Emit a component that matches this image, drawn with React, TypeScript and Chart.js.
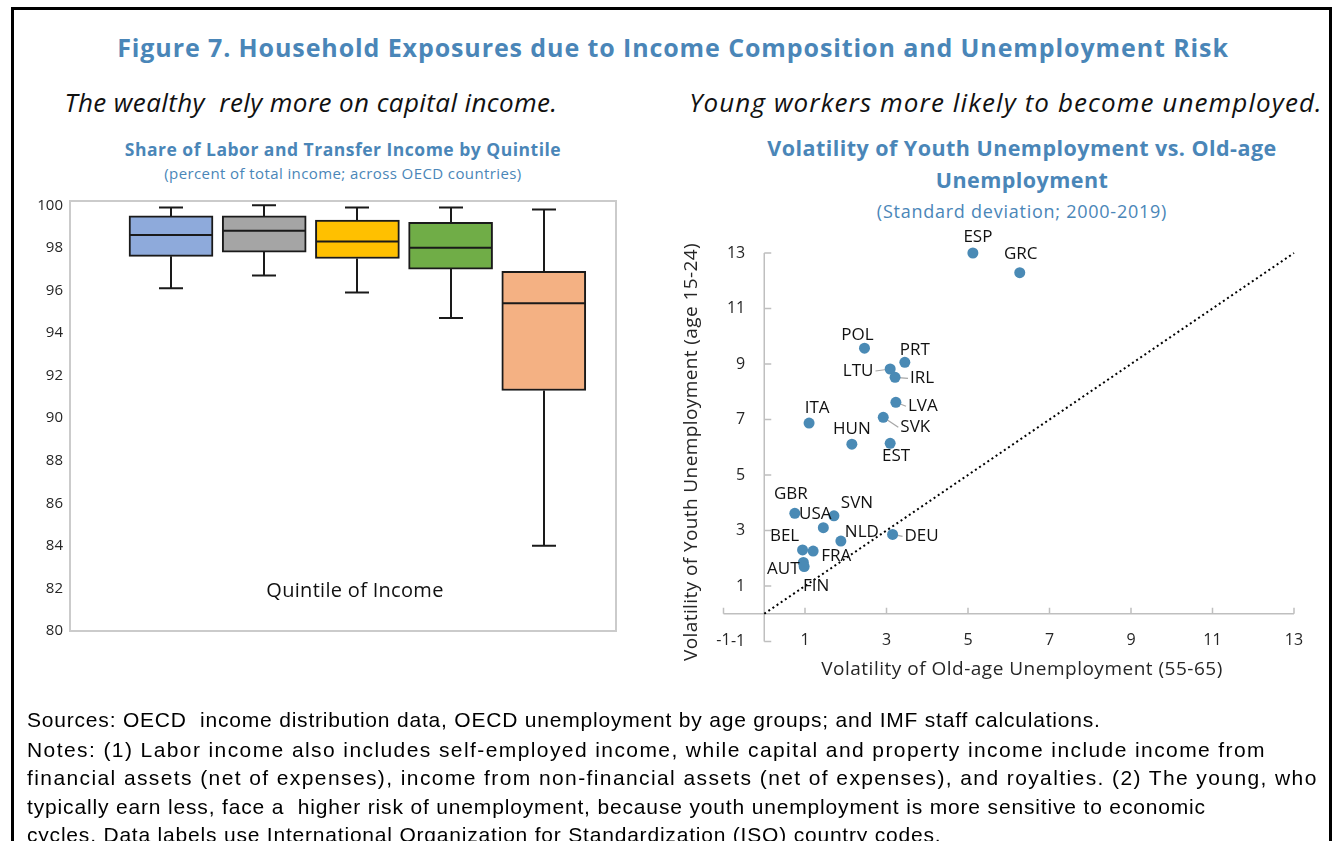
import React, { useEffect, useRef } from "react";
import { Chart, registerables } from "chart.js";

Chart.register(...registerables);

// ---------- Left chart data (box plot by income quintile) ----------
const QUINTILES = ["Q1", "Q2", "Q3", "Q4", "Q5"];
const WHISKER_LOW = [96.1, 96.7, 95.9, 94.7, 84.0];
const BOX_LOW = [97.6, 97.8, 97.5, 97.0, 91.3];
const MEDIAN = [98.6, 98.8, 98.3, 98.0, 95.4];
const BOX_HIGH = [99.5, 99.5, 99.3, 99.2, 96.9];
const WHISKER_HIGH = [99.9, 100.0, 99.9, 99.9, 99.8];
const LEFT_Y_TICKS = [80, 82, 84, 86, 88, 90, 92, 94, 96, 98, 100];

// ---------- Right chart data (scatter) ----------
const COUNTRIES = ["ESP", "GRC", "POL", "PRT", "LTU", "IRL", "LVA", "SVK", "ITA", "HUN", "EST", "GBR", "SVN", "USA", "NLD", "DEU", "BEL", "FRA", "AUT", "FIN"];
const OLD_AGE_SD = [5.12, 6.27, 2.46, 3.45, 3.09, 3.21, 3.23, 2.92, 1.10, 2.15, 3.09, 0.75, 1.71, 1.45, 1.88, 3.15, 0.94, 1.20, 0.96, 0.98];
const YOUTH_SD = [13.0, 12.29, 9.57, 9.06, 8.82, 8.52, 7.62, 7.08, 6.87, 6.11, 6.14, 3.62, 3.53, 3.10, 2.62, 2.86, 2.30, 2.26, 1.85, 1.70];
const AXIS_TICKS = [-1, 1, 3, 5, 7, 9, 11, 13];
const DIAGONAL = [0, 13];

// ---------- Styling / placement (not data) ----------
const BOX_COLORS = ["#8eaadb", "#a5a5a5", "#ffc000", "#70ad47", "#f4b183"];
const BLUE = "#4a86b8";
const POINT_COLOR = "#4a8ab5";
// label offsets [dx, dy, leaderLine]
const LABEL_PLACEMENT: Record<string, [number, number, boolean]> = {
  ESP: [5, -16, false],
  GRC: [1, -19, false],
  POL: [-7, -13, false],
  PRT: [10, -12, false],
  LTU: [-32, 2, true],
  IRL: [27, 1, true],
  LVA: [27, 4, true],
  SVK: [32, 10, true],
  ITA: [8, -15, false],
  HUN: [0, -15, false],
  EST: [6, 13, false],
  GBR: [-4, -19, false],
  SVN: [23, -13, false],
  USA: [-8, -14, false],
  NLD: [21, -9, false],
  DEU: [29, 2, true],
  BEL: [-18, -14, false],
  FRA: [23, 5, false],
  AUT: [-20, 7, false],
  FIN: [12, 20, false],
};

const FONT = '"Open Sans", "Noto Sans", sans-serif';

function BoxChart() {
  const ref = useRef<HTMLCanvasElement>(null);
  useEffect(() => {
    if (!ref.current) return;
    const framePlugin = {
      id: "plotFrame",
      beforeDatasetsDraw(chart: any) {
        const { ctx, chartArea } = chart;
        ctx.save();
        ctx.strokeStyle = "#cbcbcb";
        ctx.lineWidth = 2;
        ctx.strokeRect(chartArea.left, chartArea.top, chartArea.right - chartArea.left, chartArea.bottom - chartArea.top);
        ctx.restore();
      },
    };
    const whiskerPlugin = {
      id: "whiskers",
      afterDatasetsDraw(chart: any) {
        const { ctx } = chart;
        const x = chart.scales.x;
        const y = chart.scales.y;
        const meta = chart.getDatasetMeta(0);
        ctx.save();
        ctx.strokeStyle = "#1a1a1a";
        ctx.lineWidth = 2;
        QUINTILES.forEach((_, i) => {
          const cx = Math.round(x.getPixelForValue(i));
          const bar = meta.data[i];
          const half = bar ? bar.width / 2 : 42;
          const yWL = y.getPixelForValue(WHISKER_LOW[i]);
          const yBL = y.getPixelForValue(BOX_LOW[i]);
          const yM = y.getPixelForValue(MEDIAN[i]);
          const yBH = y.getPixelForValue(BOX_HIGH[i]);
          const yWH = y.getPixelForValue(WHISKER_HIGH[i]);
          ctx.beginPath();
          ctx.moveTo(cx, yBL);
          ctx.lineTo(cx, yWL);
          ctx.moveTo(cx - 12, yWL);
          ctx.lineTo(cx + 12, yWL);
          ctx.moveTo(cx, yBH);
          ctx.lineTo(cx, yWH);
          ctx.moveTo(cx - 12, yWH);
          ctx.lineTo(cx + 12, yWH);
          ctx.moveTo(cx - half + 1, yM);
          ctx.lineTo(cx + half - 1, yM);
          ctx.stroke();
        });
        ctx.restore();
      },
    };
    const chart = new Chart(ref.current, {
      type: "bar",
      data: {
        datasets: [
          {
            data: QUINTILES.map((_, i) => ({ x: i, y: [BOX_LOW[i], BOX_HIGH[i]] })) as any,
            backgroundColor: BOX_COLORS,
            borderColor: "#1a1a1a",
            borderWidth: 2,
            borderSkipped: false,
            barThickness: 84,
          },
        ],
      },
      options: {
        responsive: false,
        animation: false,
        layout: { padding: { left: 0, right: 14, top: 11, bottom: 9 } },
        plugins: { legend: { display: false }, tooltip: { enabled: false } },
        scales: {
          x: { type: "linear", min: -1.084, max: 4.775, display: false, offset: false, grid: { offset: false } },
          y: {
            min: 80,
            max: 100.2,
            grid: { display: false, drawTicks: false },
            border: { display: false },
            afterBuildTicks: (s: any) => {
              s.ticks = LEFT_Y_TICKS.map((v) => ({ value: v }));
            },
            afterFit: (s: any) => {
              s.width = 50;
              s.paddingTop = 0;
              s.paddingBottom = 0;
            },
            ticks: {
              padding: 7,
              color: "#262626",
              font: { family: FONT, size: 15 },
              autoSkip: false,
            },
          },
        },
      },
      plugins: [framePlugin, whiskerPlugin],
    });
    return () => chart.destroy();
  }, []);
  return (
    <canvas
      ref={ref}
      width={610}
      height={450}
      style={{ position: "absolute", left: 20, top: 190, width: 610, height: 450 }}
    />
  );
}

function ScatterChart() {
  const ref = useRef<HTMLCanvasElement>(null);
  useEffect(() => {
    if (!ref.current) return;
    const axesPlugin = {
      id: "crossAxes",
      beforeDatasetsDraw(chart: any) {
        const { ctx } = chart;
        const x = chart.scales.x;
        const y = chart.scales.y;
        const x0 = x.getPixelForValue(0);
        const y0 = y.getPixelForValue(0);
        ctx.save();
        ctx.strokeStyle = "#bfbfbf";
        ctx.lineWidth = 1.5;
        ctx.beginPath();
        ctx.moveTo(x.getPixelForValue(-1), y0);
        ctx.lineTo(x.getPixelForValue(13), y0);
        AXIS_TICKS.forEach((v) => {
          const px = x.getPixelForValue(v);
          ctx.moveTo(px, y0);
          ctx.lineTo(px, y0 - 6);
        });
        ctx.moveTo(x0, y.getPixelForValue(-1));
        ctx.lineTo(x0, y.getPixelForValue(13));
        AXIS_TICKS.forEach((v) => {
          const py = y.getPixelForValue(v);
          ctx.moveTo(x0, py);
          ctx.lineTo(x0 + 7, py);
        });
        ctx.stroke();
        // leader lines
        const meta = chart.getDatasetMeta(0);
        ctx.font = `17px ${FONT}`;
        ctx.strokeStyle = "#a6a6a6";
        ctx.lineWidth = 1.2;
        COUNTRIES.forEach((c, i) => {
          const el = meta.data[i];
          const [dx, dy, leader] = LABEL_PLACEMENT[c];
          if (!el || !leader) return;
          const w = ctx.measureText(c).width;
          const lx = dx > 0 ? el.x + dx - w / 2 - 2 : el.x + dx + w / 2 + 2;
          ctx.beginPath();
          ctx.moveTo(el.x, el.y);
          ctx.lineTo(lx, el.y + dy);
          ctx.stroke();
        });
        ctx.restore();
      },
      afterDatasetsDraw(chart: any) {
        const { ctx } = chart;
        const meta = chart.getDatasetMeta(0);
        ctx.save();
        ctx.font = `17px ${FONT}`;
        ctx.fillStyle = "#111";
        ctx.textAlign = "center";
        ctx.textBaseline = "middle";
        COUNTRIES.forEach((c, i) => {
          const el = meta.data[i];
          if (!el) return;
          const [dx, dy] = LABEL_PLACEMENT[c];
          ctx.fillText(c, el.x + dx, el.y + dy);
        });
        ctx.restore();
      },
    };
    const chart = new Chart(ref.current, {
      type: "scatter",
      data: {
        datasets: [
          {
            data: COUNTRIES.map((_, i) => ({ x: OLD_AGE_SD[i], y: YOUTH_SD[i] })),
            backgroundColor: POINT_COLOR,
            borderWidth: 0,
            pointRadius: 5.5,
            order: 0,
            clip: false as any,
          },
          {
            data: DIAGONAL.map((v) => ({ x: v, y: v })),
            showLine: true,
            borderColor: "#000",
            borderWidth: 2,
            borderDash: [2, 3],
            pointRadius: 0,
            order: 1,
            clip: false as any,
          } as any,
        ],
      },
      options: {
        responsive: false,
        animation: false,
        layout: { padding: { left: 0, right: 38, top: 25, bottom: 0 } },
        plugins: { legend: { display: false }, tooltip: { enabled: false } },
        scales: {
          x: {
            type: "linear",
            min: 0,
            max: 13,
            grid: { display: false, drawTicks: false },
            border: { display: false },
            afterBuildTicks: (s: any) => {
              s.ticks = AXIS_TICKS.map((v) => ({ value: v }));
            },
            afterFit: (s: any) => {
              s.height = 59.6;
              s.paddingLeft = 0;
              s.paddingRight = 0;
            },
            ticks: {
              padding: 0,
              autoSkip: false,
              maxRotation: 0,
              color: "#262626",
              font: { family: FONT, size: 16 },
            },
          },
          y: {
            type: "linear",
            min: -0.6,
            max: 13,
            grid: { display: false, drawTicks: false },
            border: { display: false },
            afterBuildTicks: (s: any) => {
              s.ticks = AXIS_TICKS.map((v) => ({ value: v }));
            },
            afterFit: (s: any) => {
              s.width = 104.25;
              s.paddingTop = 0;
              s.paddingBottom = 0;
            },
            ticks: {
              padding: 19,
              autoSkip: false,
              color: "#262626",
              font: { family: FONT, size: 16 },
            },
          },
        },
      },
      plugins: [axesPlugin],
    });
    return () => chart.destroy();
  }, []);
  return (
    <canvas
      ref={ref}
      width={672}
      height={462}
      style={{ position: "absolute", left: 660, top: 228, width: 672, height: 462 }}
    />
  );
}

function Centered(props: { cx: number; cy: number; lh: number; style?: React.CSSProperties; children: React.ReactNode }) {
  return (
    <div
      style={{
        position: "absolute",
        left: props.cx - 600,
        width: 1200,
        top: props.cy - props.lh / 2,
        lineHeight: `${props.lh}px`,
        height: props.lh,
        textAlign: "center",
        whiteSpace: "pre",
        fontFamily: FONT,
        ...props.style,
      }}
    >
      {props.children}
    </div>
  );
}

const NOTE_LINES = [
  "Sources: OECD  income distribution data, OECD unemployment by age groups; and IMF staff calculations.",
  "Notes: (1) Labor income also includes self-employed income, while capital and property income include income from",
  "financial assets (net of expenses), income from non-financial assets (net of expenses), and royalties. (2) The young, who",
  "typically earn less, face a  higher risk of unemployment, because youth unemployment is more sensitive to economic",
  "cycles. Data labels use International Organization for Standardization (ISO) country codes.",
];
const NOTE_Y = [720, 749.5, 778, 806.5, 835];
const NOTE_SPACING = [0.8, 1.41, 1.4, 0.84, 0.8];

export default function App() {
  return (
    <div
      style={{
        position: "absolute",
        left: 0,
        top: 0,
        width: 1333,
        height: 841,
        overflow: "hidden",
        background: "#fff",
        fontFamily: FONT,
      }}
    >
      <div
        style={{
          position: "absolute",
          left: 11,
          top: 7,
          width: 1321,
          height: 900,
          border: "3px solid #000",
          boxSizing: "border-box",
        }}
      />
      <Centered cx={673} cy={47} lh={32} style={{ fontSize: 25, fontWeight: 700, color: BLUE, letterSpacing: 0.9 }}>
        Figure 7. Household Exposures due to Income Composition and Unemployment Risk
      </Centered>
      <Centered cx={311} cy={102} lh={34} style={{ fontSize: 26, fontStyle: "italic", color: "#111", letterSpacing: 0.4 }}>
        {"The wealthy  rely more on capital income."}
      </Centered>
      <Centered cx={1006} cy={102} lh={34} style={{ fontSize: 26, fontStyle: "italic", color: "#111", letterSpacing: 1.1 }}>
        Young workers more likely to become unemployed.
      </Centered>
      <Centered cx={343} cy={149} lh={24} style={{ fontSize: 17.5, fontWeight: 700, color: BLUE, letterSpacing: 0.5 }}>
        Share of Labor and Transfer Income by Quintile
      </Centered>
      <Centered cx={343} cy={173} lh={20} style={{ fontSize: 15, color: BLUE, letterSpacing: 0.4 }}>
        (percent of total income; across OECD countries)
      </Centered>
      <Centered cx={1022} cy={148} lh={30} style={{ fontSize: 21.5, fontWeight: 700, color: BLUE, letterSpacing: 0.45 }}>
        Volatility of Youth Unemployment vs. Old-age
      </Centered>
      <Centered cx={1022} cy={180} lh={30} style={{ fontSize: 21.5, fontWeight: 700, color: BLUE, letterSpacing: 0.45 }}>
        Unemployment
      </Centered>
      <Centered cx={1022} cy={211} lh={24} style={{ fontSize: 18, color: BLUE, letterSpacing: 0.75 }}>
        (Standard deviation; 2000-2019)
      </Centered>
      <BoxChart />
      <Centered cx={355} cy={590} lh={26} style={{ fontSize: 20, color: "#111", letterSpacing: 0.3 }}>
        Quintile of Income
      </Centered>
      <ScatterChart />
      <Centered cx={1022} cy={668} lh={24} style={{ fontSize: 19, color: "#262626", letterSpacing: 0.5 }}>
        Volatility of Old-age Unemployment (55-65)
      </Centered>
      <div
        style={{
          position: "absolute",
          left: 690 - 300,
          top: 452 - 12,
          width: 600,
          height: 24,
          lineHeight: "24px",
          textAlign: "center",
          transform: "rotate(-90deg)",
          transformOrigin: "50% 50%",
          whiteSpace: "pre",
          fontFamily: FONT,
          fontSize: 19,
          letterSpacing: 0.4,
          color: "#262626",
        }}
      >
        Volatility of Youth Unemployment (age 15-24)
      </div>
      {NOTE_LINES.map((t, i) => (
        <div
          key={i}
          style={{
            position: "absolute",
            left: 27,
            top: NOTE_Y[i] - 14,
            lineHeight: "28px",
            height: 28,
            whiteSpace: "pre",
            fontFamily: '"Liberation Sans", Arial, sans-serif',
            fontSize: 21,
            letterSpacing: NOTE_SPACING[i],
            color: "#000",
          }}
        >
          {t}
        </div>
      ))}
    </div>
  );
}
